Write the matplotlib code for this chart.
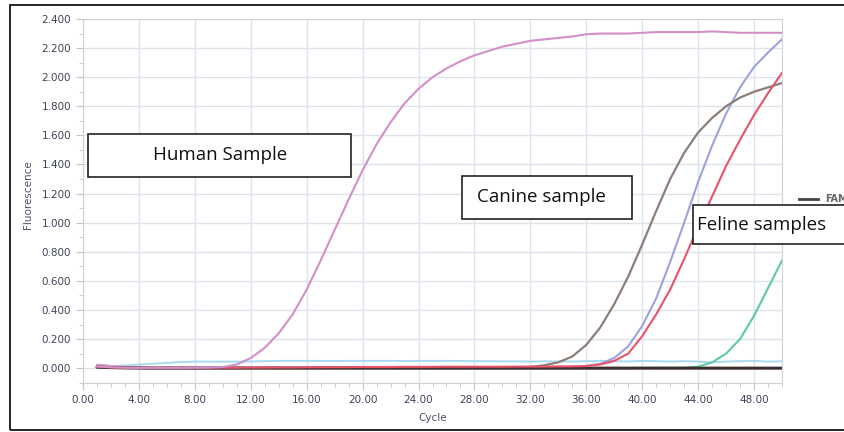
import numpy as np
import matplotlib
matplotlib.use("Agg")
import matplotlib.pyplot as plt
from matplotlib.patches import Rectangle
from matplotlib.ticker import MultipleLocator, FormatStrFormatter

W, H = 845, 432

cycles = np.arange(1, 51)

human = [0.012, 0.006, 0.003, 0.002, 0.002, 0.002, 0.002, 0.003, 0.004, 0.008,
         0.025, 0.07, 0.14, 0.24, 0.37, 0.54, 0.74, 0.95, 1.16, 1.36,
         1.54, 1.69, 1.82, 1.92, 2.00, 2.06, 2.11, 2.15, 2.18, 2.21,
         2.23, 2.25, 2.26, 2.27, 2.28, 2.295, 2.30, 2.30, 2.30, 2.305,
         2.31, 2.31, 2.31, 2.31, 2.315, 2.31, 2.305, 2.305, 2.305, 2.305]

canine = [0.005, 0.003, 0.002, 0.002, 0.002, 0.002, 0.002, 0.002, 0.002, 0.002,
          0.002, 0.002, 0.002, 0.002, 0.002, 0.002, 0.002, 0.002, 0.002, 0.002,
          0.002, 0.002, 0.002, 0.002, 0.002, 0.003, 0.003, 0.003, 0.004, 0.004,
          0.005, 0.008, 0.02, 0.04, 0.08, 0.16, 0.28, 0.44, 0.63, 0.85,
          1.08, 1.30, 1.48, 1.62, 1.72, 1.80, 1.86, 1.90, 1.93, 1.96]

feline_blue = [0.006, 0.004, 0.003, 0.003, 0.003, 0.003, 0.003, 0.003, 0.003, 0.003,
               0.003, 0.003, 0.003, 0.003, 0.003, 0.003, 0.003, 0.003, 0.003, 0.003,
               0.003, 0.003, 0.003, 0.003, 0.003, 0.004, 0.004, 0.004, 0.004, 0.004,
               0.005, 0.005, 0.005, 0.006, 0.008, 0.015, 0.03, 0.07, 0.15, 0.29,
               0.48, 0.73, 1.00, 1.28, 1.53, 1.75, 1.93, 2.07, 2.17, 2.26]

feline_red = [0.01, 0.005, 0.003, 0.003, 0.003, 0.003, 0.003, 0.003, 0.003, 0.003,
              0.003, 0.004, 0.004, 0.005, 0.005, 0.006, 0.006, 0.007, 0.007, 0.008,
              0.008, 0.008, 0.009, 0.009, 0.009, 0.01, 0.01, 0.01, 0.01, 0.01,
              0.011, 0.011, 0.011, 0.012, 0.012, 0.015, 0.025, 0.05, 0.10, 0.22,
              0.37, 0.54, 0.75, 0.97, 1.18, 1.39, 1.57, 1.74, 1.89, 2.03]

feline_teal = [0.004, 0.002, 0.001, 0.001, 0.001, 0.001, 0.001, 0.001, 0.001, 0.001,
               0.001, 0.001, 0.001, 0.001, 0.001, 0.001, 0.001, 0.001, 0.001, 0.001,
               0.001, 0.001, 0.001, 0.001, 0.001, 0.001, 0.001, 0.001, 0.001, 0.001,
               0.001, 0.001, 0.001, 0.001, 0.001, 0.001, 0.001, 0.001, 0.001, 0.002,
               0.002, 0.002, 0.003, 0.01, 0.04, 0.10, 0.20, 0.36, 0.55, 0.74]

light_blue = [0.02, 0.015, 0.018, 0.025, 0.03, 0.036, 0.042, 0.045, 0.045, 0.045,
              0.045, 0.046, 0.048, 0.05, 0.05, 0.05, 0.05, 0.049, 0.05, 0.05,
              0.05, 0.05, 0.049, 0.05, 0.05, 0.05, 0.049, 0.048, 0.048, 0.047,
              0.047, 0.045, 0.047, 0.046, 0.045, 0.048, 0.05, 0.048, 0.046, 0.05,
              0.048, 0.045, 0.048, 0.045, 0.04, 0.045, 0.048, 0.05, 0.045, 0.047]

neg_dark = [0.008, 0.004, 0.002, 0.001, 0.0, 0.0, 0.0, 0.0, 0.0, 0.0,
            0.0, 0.0, 0.0, 0.0, 0.0, 0.0, 0.0, 0.0, 0.0, 0.0,
            0.0, 0.0, 0.0, 0.0, 0.0, 0.0, 0.0, 0.0, 0.0, 0.0,
            0.0, 0.0, 0.0, 0.0, 0.0, 0.0, 0.0, 0.0, 0.0, 0.0,
            0.0, 0.0, 0.0, 0.0, 0.0, 0.0, 0.0, 0.0, 0.0, 0.0]

neg_pink = [0.025, 0.015, 0.008, 0.004, 0.002, 0.001, 0.001, 0.001, 0.001, 0.001,
            0.001, 0.001, 0.001, 0.001, 0.001, 0.001, 0.001, 0.001, 0.001, 0.001,
            0.001, 0.001, 0.001, 0.001, 0.001, 0.001, 0.001, 0.001, 0.001, 0.001,
            0.001, 0.001, 0.001, 0.001, 0.001, 0.001, 0.001, 0.001, 0.001, 0.001,
            0.001, 0.001, 0.001, 0.001, 0.001, 0.001, 0.001, 0.001, 0.001, 0.001]

series = [
    (light_blue, "#a9d9f0", 1.4),
    (neg_pink, "#d8a0c8", 1.4),
    (feline_teal, "#5ec8a6", 1.5),
    (feline_blue, "#9da2dc", 1.5),
    (canine, "#8c7f78", 1.6),
    (neg_dark, "#3d2e2e", 2.2),
    (feline_red, "#e8536a", 1.5),
    (human, "#d28fc8", 1.5),
]

fig = plt.figure(figsize=(W / 100, H / 100), dpi=100)
ax = fig.add_axes([83 / W, 1 - 382.7 / H, (782 - 83) / W, (382.7 - 19) / H])

for vals, col, lw in series:
    ax.plot(cycles, vals, color=col, lw=lw, solid_capstyle="round")

ax.set_xlim(0, 50)
ax.set_ylim(-0.1, 2.4)
ax.xaxis.set_major_locator(MultipleLocator(4))
ax.xaxis.set_minor_locator(MultipleLocator(1))
ax.yaxis.set_major_locator(MultipleLocator(0.2))
ax.yaxis.set_minor_locator(MultipleLocator(0.1))
ax.xaxis.set_major_formatter(FormatStrFormatter("%.2f"))
ax.yaxis.set_major_formatter(FormatStrFormatter("%.3f"))
ax.grid(True, which="major", color="#dde3ea", lw=1.0)
ax.set_axisbelow(True)
for s in ax.spines.values():
    s.set_color("#cdd1d8")
ax.tick_params(which="both", direction="out", color="#bfc3ca",
               labelsize=7.5, labelcolor="#3e4356")
ax.tick_params(which="major", length=5)
ax.tick_params(which="minor", length=3)

fig.text(28 / W, 1 - 195 / H, "Fluorescence", rotation=90, ha="center",
         va="center", fontsize=7.5, color="#4e5266")
fig.text(433 / W, 1 - 418 / H, "Cycle", ha="center", va="center",
         fontsize=7.5, color="#4e5266")

# annotation boxes (pixel coords: left, top, right, bottom)
boxes = [
    ((88, 134, 351, 177), "Human Sample", 220, "center"),
    ((462, 176, 632, 219), "Canine sample", 477, "left"),
    ((693, 205, 860, 244), "Feline samples", 697, "left"),
]
for (l, t, r, b), label, tx, ha in boxes:
    fig.add_artist(Rectangle((l / W, 1 - b / H), (r - l) / W, (b - t) / H,
                             transform=fig.transFigure, facecolor="white",
                             edgecolor="#222222", lw=1.2, zorder=5))
    fig.text(tx / W, 1 - (t + b) / 2 / H, label, ha=ha, va="center",
             fontsize=13.5, family="Open Sans", color="#111111", zorder=6)

# legend entry, cut by the right edge as in the source screenshot
fig.add_artist(plt.Line2D([799 / W, 818 / W], [1 - 199 / H, 1 - 199 / H],
                          transform=fig.transFigure, color="#444444", lw=2))
fig.text(825 / W, 1 - 199 / H, "FAM", ha="left", va="center", fontsize=7,
         fontweight="bold", color="#666666")

# outer frame
fig.add_artist(Rectangle((10 / W, 1 - 430 / H), 850 / W, 425 / H,
                         transform=fig.transFigure, fill=False,
                         edgecolor="black", lw=1.2))

fig.savefig("out.png", dpi=100)
